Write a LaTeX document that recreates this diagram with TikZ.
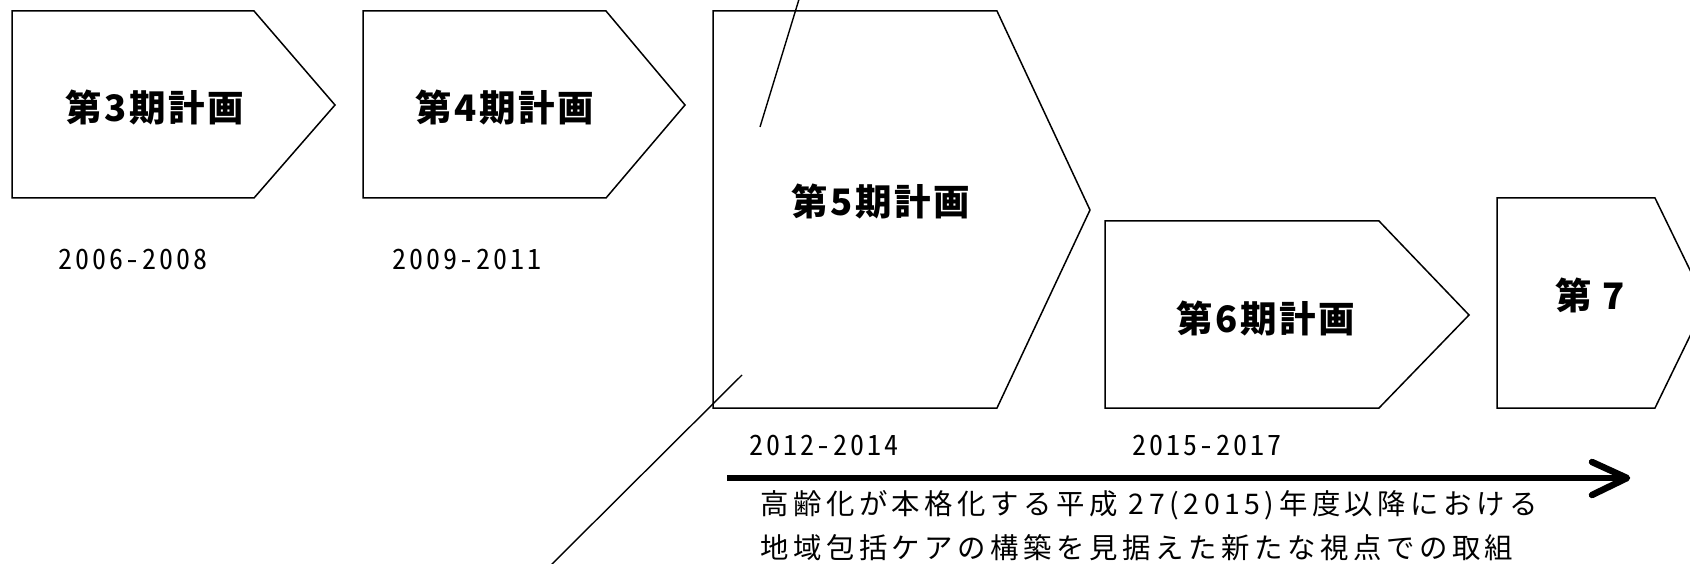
\documentclass[tikz,border=0pt]{standalone}
\usepackage{fontspec}
\newfontfamily\jpt[LetterSpace=7]{Noto Sans CJK JP}
\newfontfamily\jpy[LetterSpace=10,CharacterWidth=Half]{Noto Sans CJK JP}
\newfontfamily\jpb[LetterSpace=16]{Noto Sans CJK JP}
\begin{document}
\begin{tikzpicture}[x=1pt,y=-1pt,
  plan/.style={draw=black, line width=1.5pt, line join=miter},
  ttl/.style={font=\jpt\bfseries\fontsize{36.5}{40}\selectfont, inner sep=0pt},
  yr/.style={font=\jpy\fontsize{28}{32}\selectfont, inner sep=0pt},
  body/.style={font=\jpb\fontsize{28.4}{32}\selectfont, inner sep=0pt, anchor=west},
  lead/.style={draw=black, line width=1.4pt},
  timeline/.style={draw=black, line width=6.5pt},
  barb/.style={draw=black, line width=6.5pt, line cap=round, line join=round},
]
\useasboundingbox (0,0) rectangle (1690,564);
\fill[white] (0,0) rectangle (1690,564);
\clip (0,0) rectangle (1690,564);

% period shapes
\draw[plan] (12,11) -- (254,11) -- (335,105) -- (254,198) -- (12,198) -- cycle;
\draw[plan] (363,11) -- (606,11) -- (685,105) -- (606,198) -- (363,198) -- cycle;
\draw[plan] (713,11) -- (997,11) -- (1090,210) -- (997,408) -- (713,408) -- cycle;
\draw[plan] (1105,221) -- (1379,221) -- (1469,315) -- (1379,408) -- (1105,408) -- cycle;
\draw[plan] (1497,198) -- (1655,198) -- (1706,303) -- (1655,408) -- (1497,408) -- cycle;

% titles
\node[ttl] (p3) at (155,108) {第3期計画};
\node[ttl] (p4) at (505,108) {第4期計画};
\node[ttl] (p5) at (881,202) {第5期計画};
\node[ttl] (p6) at (1266,319) {第6期計画};
\node[ttl] (p7) at (1590,295) {第 7};

% years
\node[yr] (y3) at (133,259) {2006-2008};
\node[yr] (y4) at (467,259) {2009-2011};
\node[yr] (y5) at (824,445) {2012-2014};
\node[yr] (y6) at (1207,445) {2015-2017};

% timeline arrow
\coordinate (as) at (727,478);
\coordinate (ae) at (1627,478);
\coordinate (bu) at (1592,462);
\coordinate (bd) at (1592,495);
\draw[timeline] (as) -- (ae);
\draw[barb] (bu) -- (ae) -- (bd);

% description
\node[body] (d1) at (760,505) {高齢化が本格化する平成 27(2015)年度以降における};
\node[body] (d2) at (760,548) {地域包括ケアの構築を見据えた新たな視点での取組};

% stray lines
\coordinate (l1a) at (800,-4);
\coordinate (l1b) at (760,127);
\draw[lead] (l1a) -- (l1b);
\coordinate (l2a) at (742,375);
\coordinate (l2b) at (548,568);
\draw[lead] (l2a) -- (l2b);
\end{tikzpicture}
\end{document}
